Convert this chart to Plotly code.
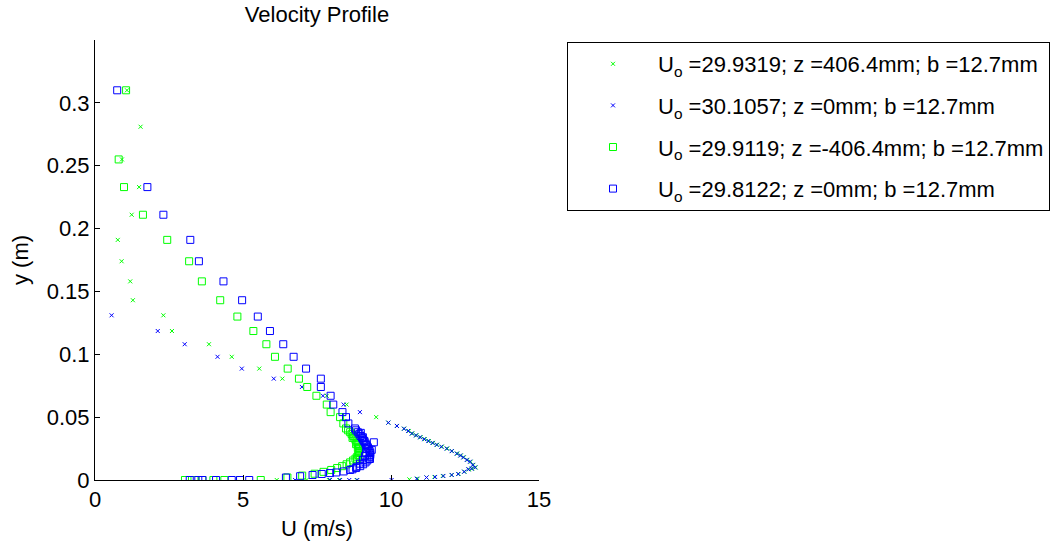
import plotly.graph_objects as go

# Series 1: U_o=29.9319, z=406.4mm (green x)
u1 = [1.08, 1.54, 0.91, 1.49, 1.24, 0.77, 0.90, 1.19, 1.28, 2.31,
      2.60, 3.85, 4.62, 5.55, 6.33, 7.83, 8.50, 9.50, 9.91, 10.20,
      10.44, 10.60, 10.72, 10.86, 11.00, 11.14, 11.28, 11.42, 11.56, 11.72,
      11.90, 12.06, 12.24, 12.36, 12.46, 12.58, 12.69, 12.78, 12.86, 12.74,
      12.63, 12.48, 12.28, 12.05, 11.75, 11.47, 11.20, 10.90, 10.62, 8.84,
      8.25, 7.90, 7.15, 6.14]
y1 = [0.310, 0.281, 0.255, 0.233, 0.211, 0.191, 0.174, 0.158, 0.143, 0.131,
      0.1185, 0.108, 0.098, 0.0886, 0.0806, 0.067, 0.060, 0.050, 0.0456, 0.043,
      0.0408, 0.039, 0.037, 0.0355, 0.034, 0.0325, 0.031, 0.0295, 0.028, 0.0265,
      0.025, 0.023, 0.021, 0.0195, 0.018, 0.016, 0.0145, 0.012, 0.010, 0.009,
      0.0085, 0.0066, 0.0048, 0.004, 0.0032, 0.0024, 0.002, 0.001, 0.0005, 0.0,
      0.0, 0.0, 0.0, 0.0]

# Series 2: U_o=30.1057, z=0mm (blue x)
u2 = [0.56, 2.12, 3.03, 4.14, 4.96, 6.04, 6.99, 7.70, 8.40, 8.95,
      9.91, 10.20, 10.44, 10.58, 10.70, 10.84, 10.98, 11.12, 11.26, 11.40,
      11.54, 11.70, 11.88, 12.05, 12.22, 12.34, 12.44, 12.56, 12.67, 12.76,
      12.84, 12.72, 12.61, 12.47, 12.27, 12.05, 11.77, 11.49, 11.20, 10.87,
      10.02, 8.86, 8.59, 8.28, 7.94, 6.76]
y2 = [0.131, 0.1185, 0.108, 0.098, 0.0886, 0.0806, 0.074, 0.067, 0.060, 0.054,
      0.0456, 0.043, 0.0408, 0.039, 0.037, 0.0355, 0.034, 0.0325, 0.031, 0.0295,
      0.028, 0.0265, 0.025, 0.023, 0.021, 0.0195, 0.018, 0.016, 0.0146, 0.012,
      0.010, 0.009, 0.0085, 0.0066, 0.0048, 0.004, 0.0032, 0.0024, 0.002, 0.001,
      0.0, 0.0, 0.0, 0.0, 0.0, 0.0]

# Series 3: U_o=29.9119, z=-406.4mm (green squares)
u3 = [1.05, 0.80, 0.98, 1.62, 2.44, 3.18, 3.61, 4.23, 4.81, 5.35,
      5.79, 6.08, 6.51, 6.89, 7.17, 7.48, 7.83, 7.96, 8.28, 8.39,
      8.48, 8.55, 8.62, 8.67, 8.72, 8.76, 8.80, 8.84, 8.87, 8.90,
      8.92, 8.93, 8.93, 8.92, 8.90, 8.86, 8.80, 8.72, 8.62, 8.50,
      8.35, 8.18, 7.98, 7.72, 7.42, 7.00, 6.50, 5.60, 4.90, 4.37,
      4.00, 3.63, 3.36, 3.04, 8.70, 8.82, 8.88, 8.91, 8.90, 8.85]
y3 = [0.310, 0.255, 0.233, 0.211, 0.191, 0.174, 0.158, 0.143, 0.130, 0.1185,
      0.108, 0.098, 0.0886, 0.0806, 0.074, 0.067, 0.060, 0.054, 0.050, 0.045,
      0.041, 0.0395, 0.038, 0.0365, 0.035, 0.0335, 0.032, 0.0305, 0.029, 0.0275,
      0.026, 0.0245, 0.023, 0.0215, 0.020, 0.0185, 0.017, 0.0155, 0.014, 0.0125,
      0.011, 0.0095, 0.008, 0.0065, 0.005, 0.0035, 0.002, 0.0, 0.0, 0.0,
      0.0, 0.0, 0.0, 0.0, 0.0335, 0.0285, 0.0255, 0.0225, 0.0195, 0.0165]

# Series 4: U_o=29.8122, z=0mm (blue squares)
u4 = [0.75, 1.77, 2.31, 3.22, 3.51, 4.34, 4.97, 5.50, 5.91, 6.36,
      6.71, 7.13, 7.63, 7.63, 7.96, 8.05, 8.36, 8.48, 8.56, 8.78,
      8.82, 8.88, 8.93, 8.97, 9.02, 9.06, 9.10, 9.14, 9.18, 9.22,
      9.25, 9.28, 9.30, 9.30, 9.28, 9.25, 9.20, 9.14, 9.06, 8.96,
      8.82, 8.62, 8.40, 8.15, 7.94, 7.66, 7.35, 6.93, 6.45, 5.21,
      4.90, 4.62, 4.09, 3.63, 3.49, 3.20, 9.35, 9.29, 9.42,
      8.98, 9.05, 9.10, 9.15, 9.18, 9.16, 9.12, 9.05, 8.95, 8.84, 8.70]
y4 = [0.310, 0.233, 0.211, 0.191, 0.174, 0.158, 0.143, 0.130, 0.1185, 0.108,
      0.098, 0.0886, 0.0806, 0.074, 0.067, 0.060, 0.054, 0.050, 0.045, 0.041,
      0.0395, 0.038, 0.0365, 0.035, 0.0335, 0.032, 0.0305, 0.029, 0.0275, 0.026,
      0.0245, 0.023, 0.0215, 0.020, 0.0185, 0.017, 0.0155, 0.014, 0.0125, 0.011,
      0.0095, 0.008, 0.0068, 0.006, 0.0055, 0.0048, 0.004, 0.003, 0.002, 0.0,
      0.0, 0.0, 0.0, 0.0, 0.0, 0.0, 0.024, 0.0167, 0.030,
      0.0375, 0.034, 0.031, 0.028, 0.025, 0.022, 0.019, 0.016, 0.013, 0.0105, 0.0085]

names = ["U<sub>o</sub> =29.9319; z =406.4mm; b =12.7mm",
         "U<sub>o</sub> =30.1057; z =0mm; b =12.7mm",
         "U<sub>o</sub> =29.9119; z =-406.4mm; b =12.7mm",
         "U<sub>o</sub> =29.8122; z =0mm; b =12.7mm"]

GREEN = "#00ff00"
BLUE = "#0000ff"
FONT = "Liberation Sans, Arial, sans-serif"
FS = 22

fig = go.Figure()
series = [(u1, y1, GREEN, "x-thin-open", 4),
          (u2, y2, BLUE, "x-thin-open", 4),
          (u3, y3, GREEN, "square-open", 7),
          (u4, y4, BLUE, "square-open", 7)]
for i, (u, y, c, sym, sz) in enumerate(series):
    fig.add_trace(go.Scatter(
        x=u, y=y, mode="markers", name=names[i], legendgroup=f"g{i}",
        marker=dict(symbol=sym, size=sz, color=c, line=dict(color=c, width=1)),
    ))

axis_common = dict(showgrid=False, zeroline=False, showline=True, linecolor="black",
                   linewidth=1, ticks="inside", ticklen=5, tickcolor="black",
                   mirror=False, tickfont=dict(family=FONT, size=FS, color="black"))

fig.update_layout(
    width=1062, height=544,
    margin=dict(l=95, r=523, t=40, b=64, autoexpand=False),
    paper_bgcolor="white", plot_bgcolor="white",
    font=dict(family=FONT, size=FS, color="black"),
    title=dict(text="Velocity Profile", x=317/1062, xanchor="center",
               y=1 - 14/544, yanchor="middle", font=dict(size=FS, family=FONT)),
    xaxis=dict(range=[0, 15], tickvals=[0, 5, 10, 15],
               title=dict(text="U (m/s)", standoff=9, font=dict(size=FS)), **axis_common),
    yaxis=dict(range=[0, 0.35], tickvals=[0, 0.05, 0.1, 0.15, 0.2, 0.25, 0.3],
               ticktext=["0", "0.05", "0.1", "0.15", "0.2", "0.25", "0.3"],
               title=dict(text="y (m)", standoff=12, font=dict(size=FS)), **axis_common),
    legend=dict(x=(567-95)/444, xanchor="left", y=(480-42)/440, yanchor="top",
                bordercolor="black", borderwidth=1, bgcolor="white",
                font=dict(family=FONT, size=22), itemwidth=80, tracegroupgap=10),
    showlegend=True,
)

fig.write_html("out.html")
